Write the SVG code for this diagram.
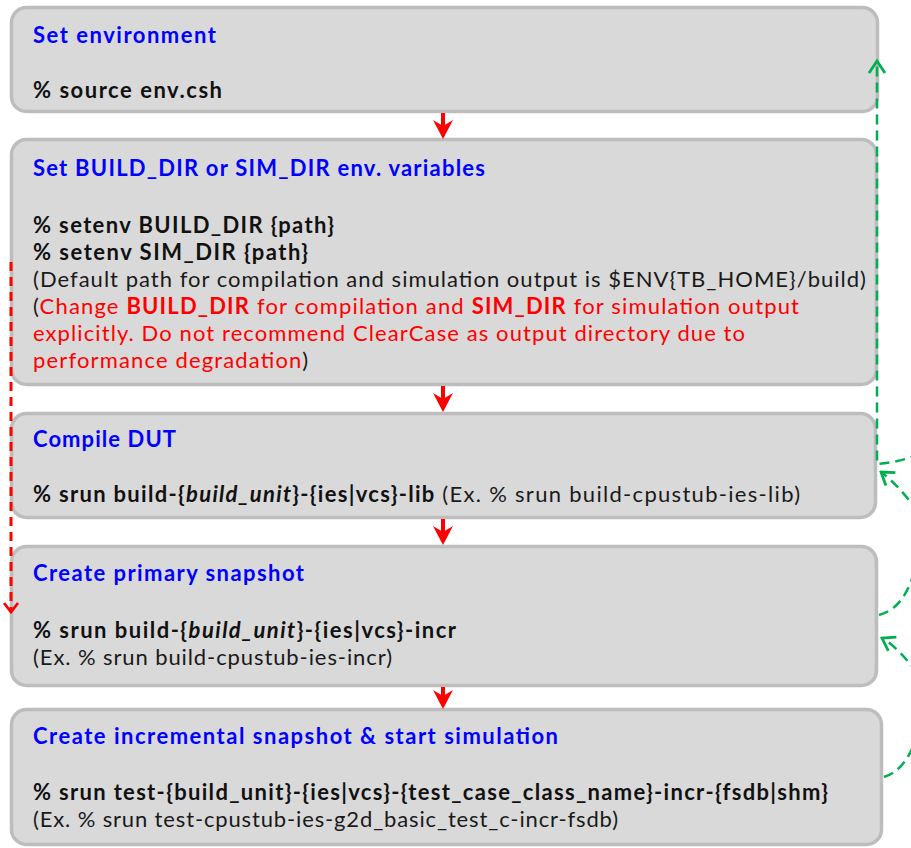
<svg xmlns="http://www.w3.org/2000/svg" width="911" height="848" viewBox="0 0 911 848">
  <defs>
    <style>
      .box { fill: #d9d9d9; stroke: #bdbdbd; stroke-width: 3.5; }
      text { font-family: Lato, "Open Sans", "Liberation Sans", sans-serif; font-size: 22px; }
      .title { fill: #0000ff; font-weight: 700; }
      .cmd { fill: #111111; font-weight: 700; }
      .note { fill: #1a1a1a; font-weight: 400; }
      .red { fill: #ff0000; }
      .b { font-weight: 700; }
      .bi { font-style: italic; font-weight: 700; }
      .flow { stroke: #ff0000; stroke-width: 4; fill: none; }
      .skip { stroke: #ff0000; stroke-width: 3; fill: none; stroke-dasharray: 9 6; }
      .loop { stroke: #00b050; stroke-width: 2.5; fill: none; stroke-dasharray: 10 6; }
    </style>
    <marker id="redHead" markerUnits="userSpaceOnUse" markerWidth="20" markerHeight="22" viewBox="0 -11 20 22" refX="8" refY="0" orient="auto">
      <path d="M0,-10 L19,0 L0,10 L6,0 z" fill="#ff0000"/>
    </marker>
    <marker id="redOpen" markerUnits="userSpaceOnUse" markerWidth="14" markerHeight="18" viewBox="-12 -9 14 18" refX="0" refY="0" orient="auto">
      <path d="M-9,-7 L0,0 L-9,7" fill="none" stroke="#ff0000" stroke-width="2.8"/>
    </marker>
    <marker id="greenOpen" markerUnits="userSpaceOnUse" markerWidth="16" markerHeight="22" viewBox="-14 -11 16 22" refX="0" refY="0" orient="auto">
      <path d="M-12,-8 L0,0 L-12,8" fill="none" stroke="#00b050" stroke-width="2.8"/>
    </marker>
  </defs>

  <rect width="911" height="848" fill="#ffffff"/>

  <!-- Step 1 -->
  <g id="set-environment">
    <rect class="box" x="11.5" y="7.5" width="866" height="104" rx="15"/>
    <text class="title" x="33" y="43" textLength="183">Set environment</text>
    <text class="cmd" x="33" y="98" textLength="189">% source env.csh</text>
  </g>

  <!-- Step 2 -->
  <g id="set-dirs">
    <rect class="box" x="11.5" y="139.5" width="865" height="245" rx="15"/>
    <text class="title" x="33" y="176" textLength="452">Set BUILD_DIR or SIM_DIR env. variables</text>
    <text class="cmd" x="33" y="233" textLength="301">% setenv BUILD_DIR {path}</text>
    <text class="cmd" x="33" y="260" textLength="275">% setenv SIM_DIR {path}</text>
    <text class="note" x="33" y="287" textLength="833">(Default path for compilation and simulation output is $ENV{TB_HOME}/build)</text>
    <text class="note" x="33" y="314" textLength="766">(<tspan class="red">Change </tspan><tspan class="red b">BUILD_DIR</tspan><tspan class="red"> for compilation and </tspan><tspan class="red b">SIM_DIR</tspan><tspan class="red"> for simulation output</tspan></text>
    <text class="note red" x="33" y="341" textLength="712">explicitly. Do not recommend ClearCase as output directory due to</text>
    <text class="note" x="33" y="368" textLength="275"><tspan class="red">performance degradation</tspan>)</text>
  </g>

  <!-- Step 3 -->
  <g id="compile-dut">
    <rect class="box" x="11.5" y="413.5" width="864" height="104" rx="15"/>
    <text class="title" x="33" y="447" textLength="143">Compile DUT</text>
    <text class="cmd" x="33" y="502" textLength="767">% srun build-{<tspan class="bi">build_unit</tspan>}-{ies|vcs}-lib <tspan class="note">(Ex. % srun build-cpustub-ies-lib)</tspan></text>
  </g>

  <!-- Step 4 -->
  <g id="primary-snapshot">
    <rect class="box" x="11.5" y="546.5" width="865" height="139" rx="15"/>
    <text class="title" x="33" y="581" textLength="271">Create primary snapshot</text>
    <text class="cmd" x="33" y="638" textLength="423">% srun build-{<tspan class="bi">build_unit</tspan>}-{ies|vcs}-incr</text>
    <text class="note" x="33" y="665" textLength="359">(Ex. % srun build-cpustub-ies-incr)</text>
  </g>

  <!-- Step 5 -->
  <g id="incremental-snapshot">
    <rect class="box" x="11.5" y="709.5" width="870" height="135" rx="15"/>
    <text class="title" x="33" y="744" textLength="525">Create incremental snapshot &amp; start simulation</text>
    <text class="cmd" x="33" y="800" textLength="795">% srun test-{build_unit}-{ies|vcs}-{test_case_class_name}-incr-{fsdb|shm}</text>
    <text class="note" x="33" y="827" textLength="585">(Ex. % srun test-cpustub-ies-g2d_basic_test_c-incr-fsdb)</text>
  </g>

  <!-- Connectors -->
  <g id="connectors">
    <!-- main flow -->
    <line class="flow" x1="443" y1="113" x2="443" y2="128" marker-end="url(#redHead)"/>
    <line class="flow" x1="443" y1="386" x2="443" y2="401" marker-end="url(#redHead)"/>
    <line class="flow" x1="443" y1="519" x2="443" y2="534" marker-end="url(#redHead)"/>
    <line class="flow" x1="443" y1="687" x2="443" y2="698" marker-end="url(#redHead)"/>
    <!-- skip path on the left -->
    <path class="skip" d="M11,262 L11,612" marker-end="url(#redOpen)"/>
    <!-- rerun loops on the right -->
    <path class="loop" d="M935,448 Q905,462 877,464 L877,61" marker-end="url(#greenOpen)"/>
    <path class="loop" d="M935,540 Q908,492 881,472" marker-end="url(#greenOpen)"/>
    <path class="loop" d="M879,615 Q906,608 916,565"/>
    <path class="loop" d="M935,700 Q906,652 882,638" marker-end="url(#greenOpen)"/>
    <path class="loop" d="M884,777 Q906,770 916,738"/>
  </g>
</svg>
